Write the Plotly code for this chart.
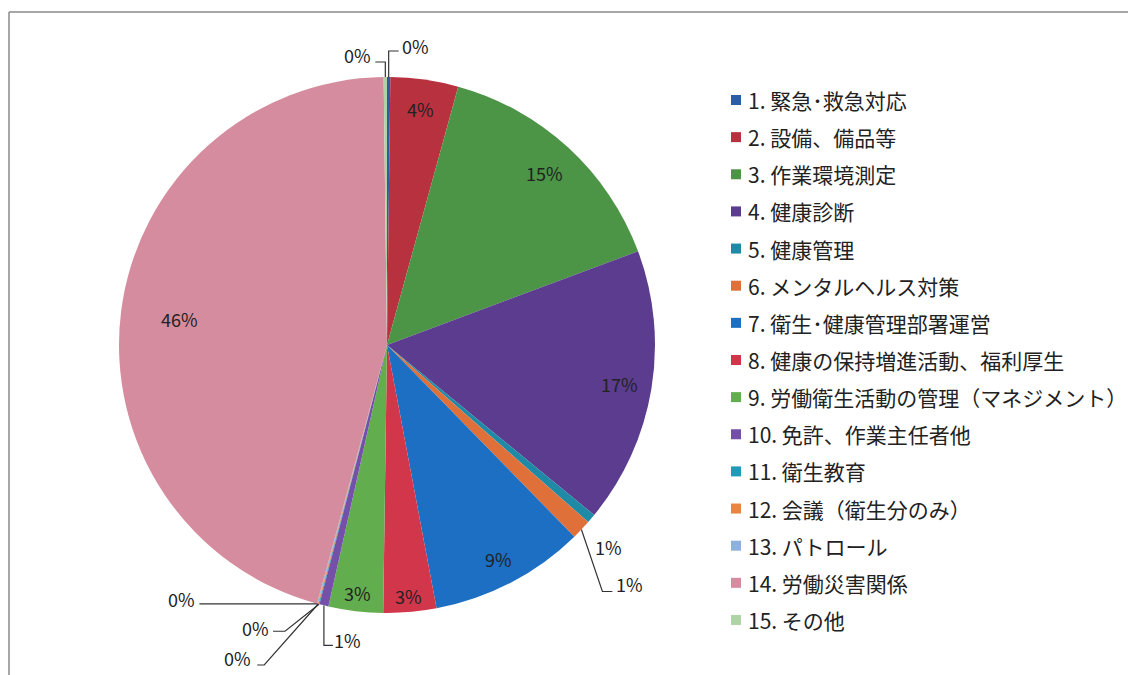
import math
import plotly.graph_objects as go

# ---------------- data ----------------
categories = [
    "1. 緊急･救急対応",
    "2. 設備、備品等",
    "3. 作業環境測定",
    "4. 健康診断",
    "5. 健康管理",
    "6. メンタルヘルス対策",
    "7. 衛生･健康管理部署運営",
    "8. 健康の保持増進活動、福利厚生",
    "9. 労働衛生活動の管理（マネジメント）",
    "10. 免許、作業主任者他",
    "11. 衛生教育",
    "12. 会議（衛生分のみ）",
    "13. パトロール",
    "14. 労働災害関係",
    "15. その他",
]
values = [0.2, 4.1, 15.1, 16.7, 0.55, 1.2, 9.4, 3.2, 3.3, 0.55, 0.05, 0.05, 0.05, 45.8, 0.2]
colors = [
    "#2B5DA6", "#B8313F", "#4C9446", "#5B3C8E", "#1E8AA6",
    "#E0703A", "#1C6FC2", "#D2364B", "#62AE4E", "#7450A8",
    "#1F9BB8", "#EA8442", "#8DB0DF", "#D68C9F", "#AED4A6",
]

# ---------------- layout constants ----------------
W, H = 1136, 675
OFF = 8  # page body margin of the browser
CX, CY, R = 387, 345, 268
FONT = "Noto Sans CJK JP, Noto Sans, sans-serif"
TXT = "#222222"
PCT_SIZE = 18
LEG_SIZE = 21


def paper(x, y):
    return (x - OFF) / W, 1 - (y - OFF) / H


total = sum(values)
pcts = [v / total * 100 for v in values]
labels_txt = [f"{round(p):.0f}%" for p in pcts]

# mid angles (clockwise from 12 o'clock)
mids = []
cum = 0.0
for v in values:
    mids.append(2 * math.pi * (cum + v / 2) / total)
    cum += v


def polar(i, f):
    a = mids[i]
    return CX + R * f * math.sin(a), CY - R * f * math.cos(a)


x0p, y1p = paper(CX - R, CY - R)
x1p, y0p = paper(CX + R, CY + R)

fig = go.Figure(
    go.Pie(
        labels=categories,
        values=values,
        sort=False,
        direction="clockwise",
        rotation=0,
        marker=dict(colors=colors, line=dict(width=0)),
        textinfo="none",
        hoverinfo="label+percent",
        showlegend=False,
        domain=dict(x=[x0p, x1p], y=[y0p, y1p]),
    )
)

annotations = []
shapes = []

# inside labels (radial factor per slice)
inside_f = {1: 0.89, 2: 0.87, 3: 0.88, 6: 0.9, 7: 0.94, 8: 0.93, 13: 0.78}
for i, f in inside_f.items():
    x, y = polar(i, f)
    px, py = paper(x, y)
    annotations.append(dict(x=px, y=py, xref="paper", yref="paper", text=labels_txt[i],
                            showarrow=False, font=dict(family=FONT, size=PCT_SIZE, color=TXT),
                            xanchor="center", yanchor="middle"))

# outside labels: (leader path offsets from edge anchor, text offset)
outside = {
    0: ([(0, -26), (10, -26)], (27, -31)),
    14: ([(0, -15), (-10, -15)], (-28, -22)),
    4: ([], (17, 28)),
    5: ([(21, 62), (31, 62)], (48, 55)),
    9: ([(0, 40), (9, 40)], (24, 35)),
    10: ([(-34, 27), (-46, 27)], (-64, 24)),
    11: ([(-54, 61), (-61, 61)], (-81, 54)),
    12: ([(-118, 0)], (-136, -5)),
}
for i, (path_off, toff) in outside.items():
    ax, ay = polar(i, 1.0)
    if path_off:
        pts = [(ax, ay)] + [(ax + dx, ay + dy) for dx, dy in path_off]
        d = ""
        for k, (x, y) in enumerate(pts):
            px, py = paper(x, y)
            d += ("M" if k == 0 else " L") + f" {px:.5f},{py:.5f}"
        shapes.append(dict(type="path", path=d, xref="paper", yref="paper",
                           line=dict(color="#333333", width=1.2)))
    tx, ty = paper(ax + toff[0], ay + toff[1])
    annotations.append(dict(x=tx, y=ty, xref="paper", yref="paper", text=labels_txt[i],
                            showarrow=False, font=dict(family=FONT, size=PCT_SIZE, color=TXT),
                            xanchor="center", yanchor="middle"))

# manual legend
LEG_X, LEG_Y0, LEG_DY, SQ = 731, 100, 37.14, 10
for i, (cat, col) in enumerate(zip(categories, colors)):
    yc = LEG_Y0 + i * LEG_DY
    sx0, sy0 = paper(LEG_X, yc - SQ / 2)
    sx1, sy1 = paper(LEG_X + SQ, yc + SQ / 2)
    shapes.append(dict(type="rect", xref="paper", yref="paper", x0=sx0, x1=sx1, y0=sy1, y1=sy0,
                       fillcolor=col, line=dict(width=0)))
    tx, ty = paper(LEG_X + SQ + 5, yc)
    annotations.append(dict(x=tx, y=ty, xref="paper", yref="paper", text=cat, showarrow=False,
                            font=dict(family=FONT, size=LEG_SIZE, color=TXT),
                            xanchor="left", yanchor="middle"))

# frame lines (top and left)
bx0, by0 = paper(9, 12)
shapes.append(dict(type="line", xref="paper", yref="paper", x0=bx0, y0=by0, x1=1, y1=by0,
                   line=dict(color="#8a8a8a", width=1.5)))
shapes.append(dict(type="line", xref="paper", yref="paper", x0=bx0, y0=by0, x1=bx0, y1=0,
                   line=dict(color="#8a8a8a", width=1.5)))

fig.update_layout(
    width=W, height=H,
    margin=dict(l=0, r=0, t=0, b=0, pad=0),
    paper_bgcolor="white", plot_bgcolor="white",
    annotations=annotations, shapes=shapes,
    font=dict(family=FONT),
)

fig.write_html("out.html")
